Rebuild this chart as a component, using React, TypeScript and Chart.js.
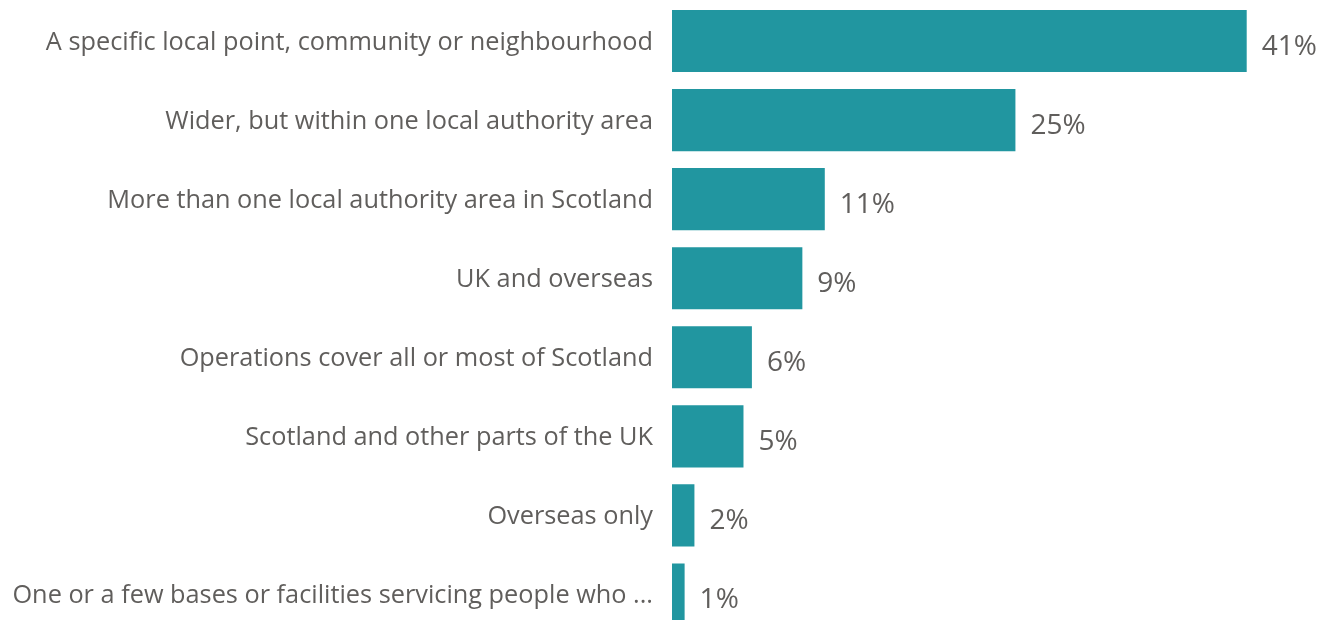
import React, { useEffect, useRef } from "react";
import { Chart, registerables } from "chart.js";

Chart.register(...registerables);

const categories = [
  "A specific local point, community or neighbourhood",
  "Wider, but within one local authority area",
  "More than one local authority area in Scotland",
  "UK and overseas",
  "Operations cover all or most of Scotland",
  "Scotland and other parts of the UK",
  "Overseas only",
  "One or a few bases or facilities servicing people who ...",
];

const shares = [41, 24.5, 10.9, 9.3, 5.7, 5.1, 1.6, 0.9];

const BAR_COLOR = "#2196A0";
const TEXT_COLOR = "#605E5C";
const FONT = "'Open Sans', 'Noto Sans', sans-serif";

const valueLabels = {
  id: "valueLabels",
  afterDatasetsDraw(chart: any) {
    const ctx = chart.ctx;
    const meta = chart.getDatasetMeta(0);
    ctx.save();
    ctx.fillStyle = TEXT_COLOR;
    ctx.font = `28px ${FONT}`;
    ctx.textAlign = "left";
    ctx.textBaseline = "alphabetic";
    meta.data.forEach((bar: any, i: number) => {
      const v = chart.data.datasets[0].data[i] as number;
      ctx.fillText(`${Math.round(v)}%`, bar.x + 15, bar.y + 14);
    });
    ctx.restore();
  },
};

export default function App() {
  const ref = useRef<HTMLCanvasElement>(null);

  useEffect(() => {
    document.body.style.margin = "0";
    const canvas = ref.current;
    if (!canvas) return;
    const chart = new Chart(canvas, {
      type: "bar",
      data: {
        labels: categories,
        datasets: [
          {
            data: shares,
            backgroundColor: BAR_COLOR,
            borderWidth: 0,
            barPercentage: 0.785,
            categoryPercentage: 1,
          },
        ],
      },
      options: {
        indexAxis: "y",
        responsive: false,
        animation: false,
        devicePixelRatio: 1,
        layout: { padding: { top: 1.5, bottom: 0, left: 0, right: 0 } },
        plugins: {
          legend: { display: false },
          tooltip: { enabled: false },
        },
        scales: {
          x: {
            display: false,
            min: 0,
            max: 46.3,
          },
          y: {
            afterFit(scale: any) {
              scale.width = 672;
              scale.paddingTop = 0;
              scale.paddingBottom = 0;
            },
            grid: { display: false, drawTicks: false },
            border: { display: false },
            ticks: {
              padding: 19,
              labelOffset: 1.5,
              color: TEXT_COLOR,
              font: { family: FONT, size: 25.3 },
            },
          },
        },
      },
      plugins: [valueLabels],
    });
    return () => chart.destroy();
  }, []);

  return (
    <div style={{ width: 1321, height: 634 }}>
      <canvas ref={ref} width={1321} height={634} />
    </div>
  );
}
